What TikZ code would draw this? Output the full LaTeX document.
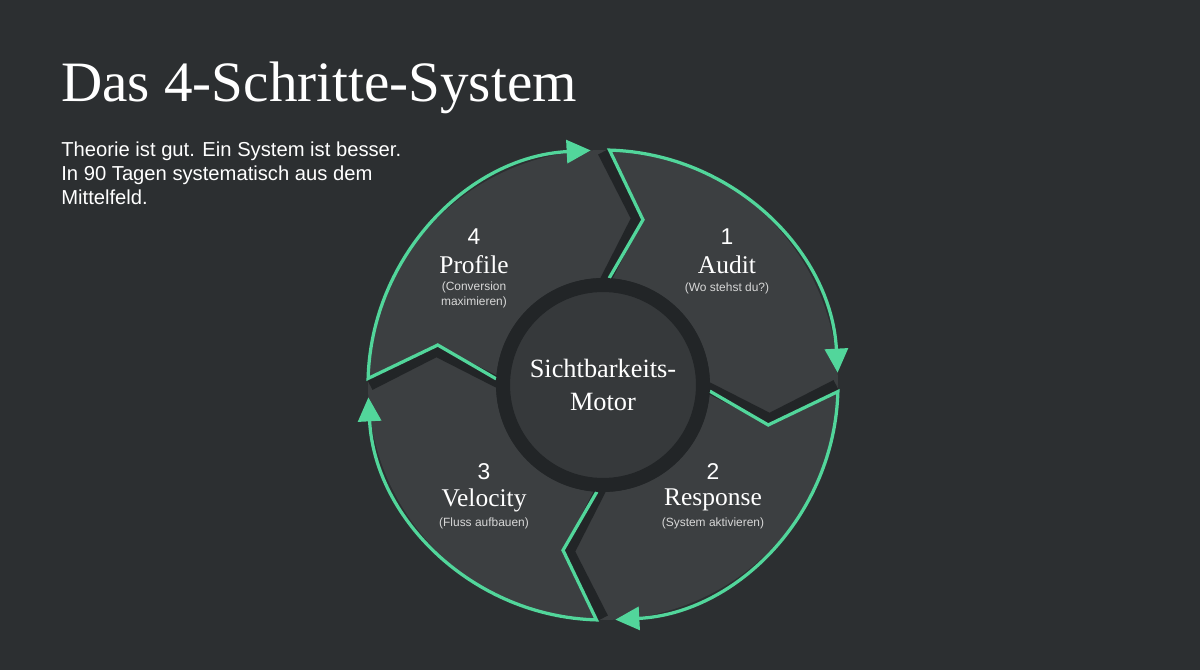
\documentclass[tikz,border=0pt]{standalone}
\usepackage{fontspec}
\setmainfont{Liberation Serif}
\setsansfont{Liberation Sans}
\usetikzlibrary{arrows.meta}
\definecolor{bg}{HTML}{2C2F31}
\definecolor{seg}{HTML}{3C3F41}
\definecolor{gapc}{HTML}{222527}
\definecolor{grn}{HTML}{52D69B}
\definecolor{inner}{HTML}{36393B}
\definecolor{sub}{HTML}{D8D8D8}
\begin{document}
\begin{tikzpicture}[x=0.02cm,y=0.02cm,
  seg/.style={fill=seg},
  gapl/.style={draw=gapc,line width=0.22cm,line join=miter},
  gline/.style={draw=grn,line width=0.065cm,line join=miter,-{Triangle[length=0.48cm,width=0.46cm]}},
  num/.style={text=white,font=\sffamily\fontsize{13}{15}\selectfont},
  ttl/.style={text=white,font=\fontsize{14.5}{17}\selectfont},
  sm/.style={text=sub,font=\sffamily\fontsize{6.8}{8.5}\selectfont,align=center}]
\fill[bg] (0,0) rectangle (1200,670);
\node[anchor=base west,text=white,font=\fontsize{32.5}{38}\selectfont,inner sep=0] (title) at (61,568) {Das 4-Schritte-System};
\node[anchor=north west,text=white,align=left,inner sep=0,font=\sffamily\fontsize{11.5}{13.6}\selectfont] (subtitle) at (61,528) {Theorie ist gut. Ein System ist besser.\\In 90 Tagen systematisch aus dem\\Mittelfeld.};
\begin{scope}[shift={(603,285)}]
\foreach \s in {90,0,-90,-180}{
  \fill[seg] (\s:107) -- (\s-11.5:170) -- (\s:235) arc[start angle=\s,end angle=\s-90,radius=4.7cm]
    -- (\s-101.5:170) -- (\s-90:107) arc[start angle=\s-90,end angle=\s,radius=2.14cm] -- cycle;
}
\foreach \s in {90,0,-90,-180}{
  \draw[gapl,line cap=butt] (\s:100) -- (\s-11.5:170) -- (\s:233);
}
\foreach \s in {90,0,-90,-180}{
  \draw[gline] (\s-3.3:107) -- (\s-13.6:170) -- (\s-1.6:235) arc[start angle=\s-1.6,end angle=\s-87,radius=4.7cm];
}
\fill[inner] (0,0) circle[radius=2cm];
\draw[gapc,line width=0.28cm] (0,0) circle[radius=2cm];
\node[ttl,align=center,font=\fontsize{15}{19}\selectfont] (motor) at (0,0) {Sichtbarkeits-\\Motor};
\end{scope}
\node[num] (n1) at (727,433) {1};
\node[ttl] (t1) at (727,405) {Audit};
\node[sm] (s1) at (727,382) {(Wo stehst du?)};
\node[num] (n2) at (713,198) {2};
\node[ttl] (t2) at (713,170) {Response};
\node[sm] (s2) at (713,147) {(System aktivieren)};
\node[num] (n3) at (484,198) {3};
\node[ttl] (t3) at (484,170) {Velocity};
\node[sm] (s3) at (484,147) {(Fluss aufbauen)};
\node[num] (n4) at (474,433) {4};
\node[ttl] (t4) at (474,405) {Profile};
\node[sm] (s4) at (474,375) {(Conversion\\maximieren)};
\end{tikzpicture}
\end{document}
